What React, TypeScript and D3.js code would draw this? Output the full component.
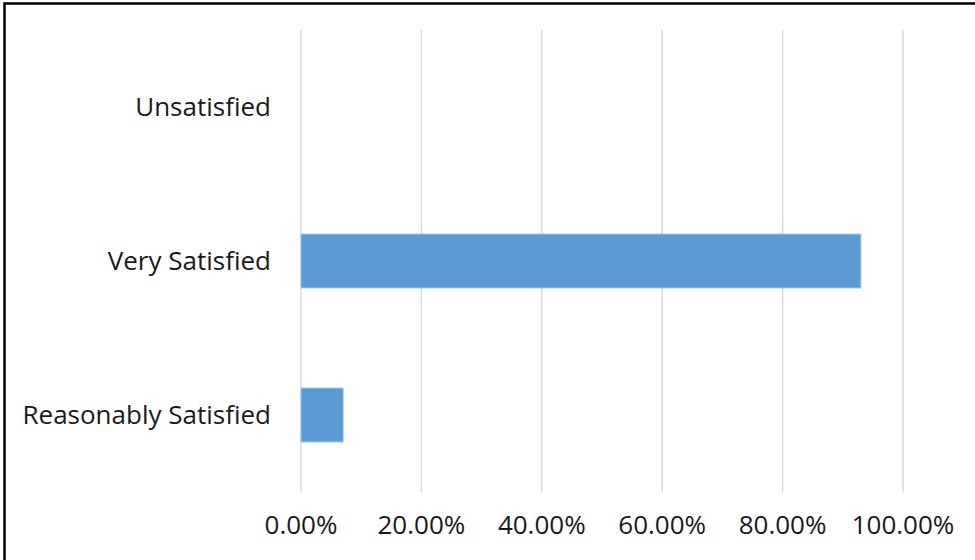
import React, { useEffect, useRef } from 'react';
import * as d3 from 'd3';

const categories = ['Unsatisfied', 'Very Satisfied', 'Reasonably Satisfied'];
const shares = [0, 0.93, 0.07];
const tickValues = [0, 0.2, 0.4, 0.6, 0.8, 1.0];

const W = 975;
const H = 560;

const App = () => {
  const ref = useRef<SVGSVGElement>(null);

  useEffect(() => {
    if (!ref.current) return;
    const svg = d3.select(ref.current);
    svg.selectAll('*').remove();

    const font = '"Open Sans", sans-serif';
    // plot area in page pixels
    const x = d3.scaleLinear().domain([0, 1]).range([301, 903]);
    const y = d3
      .scaleBand<string>()
      .domain(categories)
      .range([30, 492])
      .paddingInner(0.65)
      .paddingOuter(0.325);

    svg.append('rect').attr('width', W).attr('height', H).attr('fill', '#fff');

    // vertical gridlines
    svg
      .append('g')
      .selectAll('line')
      .data(tickValues)
      .join('line')
      .attr('x1', (d) => x(d))
      .attr('x2', (d) => x(d))
      .attr('y1', 30)
      .attr('y2', 492)
      .attr('stroke', '#d9d9d9')
      .attr('stroke-width', 1.5);

    // bars
    svg
      .append('g')
      .selectAll('rect')
      .data(categories)
      .join('rect')
      .attr('x', x(0))
      .attr('y', (d) => y(d)!)
      .attr('width', (d, i) => x(shares[i]) - x(0))
      .attr('height', y.bandwidth())
      .attr('fill', '#5b9bd5')
      .attr('stroke', (d, i) => (shares[i] > 0 ? '#9cc2e8' : 'none'))
      .attr('stroke-width', 1);

    // category labels
    svg
      .append('g')
      .selectAll('text')
      .data(categories)
      .join('text')
      .attr('x', 271)
      .attr('y', (d) => y(d)! + y.bandwidth() / 2)
      .attr('dy', '0.35em')
      .attr('text-anchor', 'end')
      .attr('font-family', font)
      .attr('font-size', 26)
      .attr('fill', '#1a1a1a')
      .text((d) => d);

    // tick labels
    svg
      .append('g')
      .selectAll('text')
      .data(tickValues)
      .join('text')
      .attr('x', (d) => x(d))
      .attr('y', 525)
      .attr('dy', '0.35em')
      .attr('text-anchor', 'middle')
      .attr('font-family', font)
      .attr('font-size', 26)
      .attr('fill', '#1a1a1a')
      .text((d) => d3.format('.2%')(d));

    // chart frame, right and bottom edges fall outside the picture
    svg
      .append('rect')
      .attr('x', 4.5)
      .attr('y', 3.5)
      .attr('width', W + 20)
      .attr('height', H + 20)
      .attr('fill', 'none')
      .attr('stroke', '#000')
      .attr('stroke-width', 2.5);
  }, []);

  return (
    <svg
      ref={ref}
      width={W}
      height={H}
      style={{ position: 'absolute', left: 0, top: 0, display: 'block' }}
    />
  );
};

export default App;
